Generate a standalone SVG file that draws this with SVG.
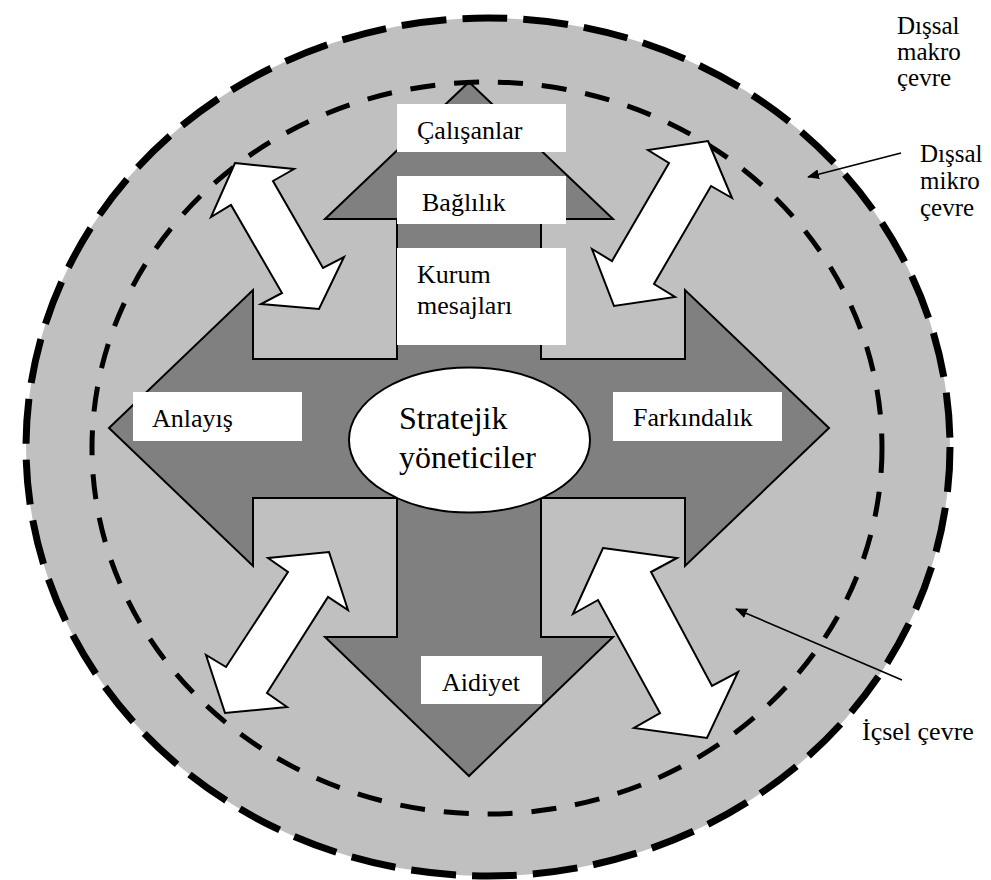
<svg xmlns="http://www.w3.org/2000/svg" width="991" height="880" viewBox="0 0 991 880">
<style>
text{font-family:"Liberation Serif","Times New Roman",serif;fill:#000;}
.lbl{font-size:26px;}
.side{font-size:25px;}
.big{font-size:32px;}
.box{fill:#fff;stroke:none;}
.dbl{fill:#fff;stroke:#000;stroke-width:2;stroke-linejoin:miter;}
.ptr{stroke:#000;stroke-width:1.6;fill:none;}
</style>
<defs>
<marker id="ah" viewBox="0 0 12 10" refX="11" refY="5" markerWidth="12" markerHeight="10" markerUnits="userSpaceOnUse" orient="auto">
<path d="M0,0 L12,5 L0,10 Z" fill="#000"/>
</marker>
</defs>
<rect width="991" height="880" fill="#fff"/>
<g id="outer-env">
<ellipse cx="488" cy="447" rx="462" ry="429" fill="#c0c0c0" stroke="#000" stroke-width="7" stroke-dasharray="45 16"/>
</g>
<g id="cross">
<polygon points="469,82 613,219 541,219 541,359 685,359 685,290 829,428 685,566 685,498 541,498 541,637 613,637 469,776 325,637 397,637 397,498 253,498 253,566 109,428 253,290 253,359 397,359 397,219 325,219" fill="#808080" stroke="#000" stroke-width="2" stroke-linejoin="miter"/>
</g>
<g id="inner-env">
<ellipse cx="487" cy="448" rx="395" ry="366" fill="none" stroke="#000" stroke-width="5" stroke-dasharray="25 19"/>
</g>
<g id="double-arrows">
<polygon class="dbl" points="235,163 294,169 273,181 323,268 344,257 319,309 261,304 282,293 231,205 211,217"/>
<polygon class="dbl" points="708,141 732,198 711,186 654,284 675,297 614,306 592,249 612,261 669,163 648,150"/>
<polygon class="dbl" points="329,552 348,610 328,597 267,693 287,707 225,713 206,655 226,667 288,572 268,558"/>
<polygon class="dbl" points="603,548 677,558 651,572 712,686 738,672 707,738 634,728 660,713 598,600 573,614"/>
</g>
<g id="calisanlar">
<rect class="box" x="397" y="104" width="169" height="48"/>
<text class="lbl" x="417" y="139">Çalışanlar</text>
</g>
<g id="baglilik">
<rect class="box" x="397" y="176" width="169" height="48"/>
<text class="lbl" x="422" y="211">Bağlılık</text>
</g>
<g id="kurum-mesajlari">
<rect class="box" x="397" y="248" width="169" height="97"/>
<text class="lbl" x="417" y="283">Kurum</text>
<text class="lbl" x="417" y="314">mesajları</text>
</g>
<g id="anlayis">
<rect class="box" x="133" y="392" width="169" height="49"/>
<text class="lbl" x="152" y="427">Anlayış</text>
</g>
<g id="farkindalik">
<rect class="box" x="613" y="392" width="169" height="49"/>
<text class="lbl" x="633" y="426">Farkındalık</text>
</g>
<g id="aidiyet">
<rect class="box" x="421" y="656" width="121" height="48"/>
<text class="lbl" x="442" y="691">Aidiyet</text>
</g>
<g id="stratejik-yoneticiler">
<ellipse cx="469.5" cy="440" rx="120.5" ry="72.5" fill="#fff" stroke="#000" stroke-width="2"/>
<text class="big" x="399" y="429">Stratejik</text>
<text class="big" x="399" y="468">yöneticiler</text>
</g>
<g id="connectors">
<line class="ptr" x1="901" y1="153" x2="808" y2="177" marker-end="url(#ah)"/>
<line class="ptr" x1="902" y1="680" x2="736" y2="609" marker-end="url(#ah)"/>
</g>
<g id="disal-makro">
<text class="side" x="897" y="34">Dışsal</text>
<text class="side" x="897" y="60">makro</text>
<text class="side" x="897" y="86">çevre</text>
</g>
<g id="disal-mikro">
<text class="side" x="920" y="162">Dışsal</text>
<text class="side" x="920" y="189">mikro</text>
<text class="side" x="920" y="216">çevre</text>
</g>
<g id="icsel">
<text class="lbl" x="862" y="740">İçsel çevre</text>
</g>
</svg>
